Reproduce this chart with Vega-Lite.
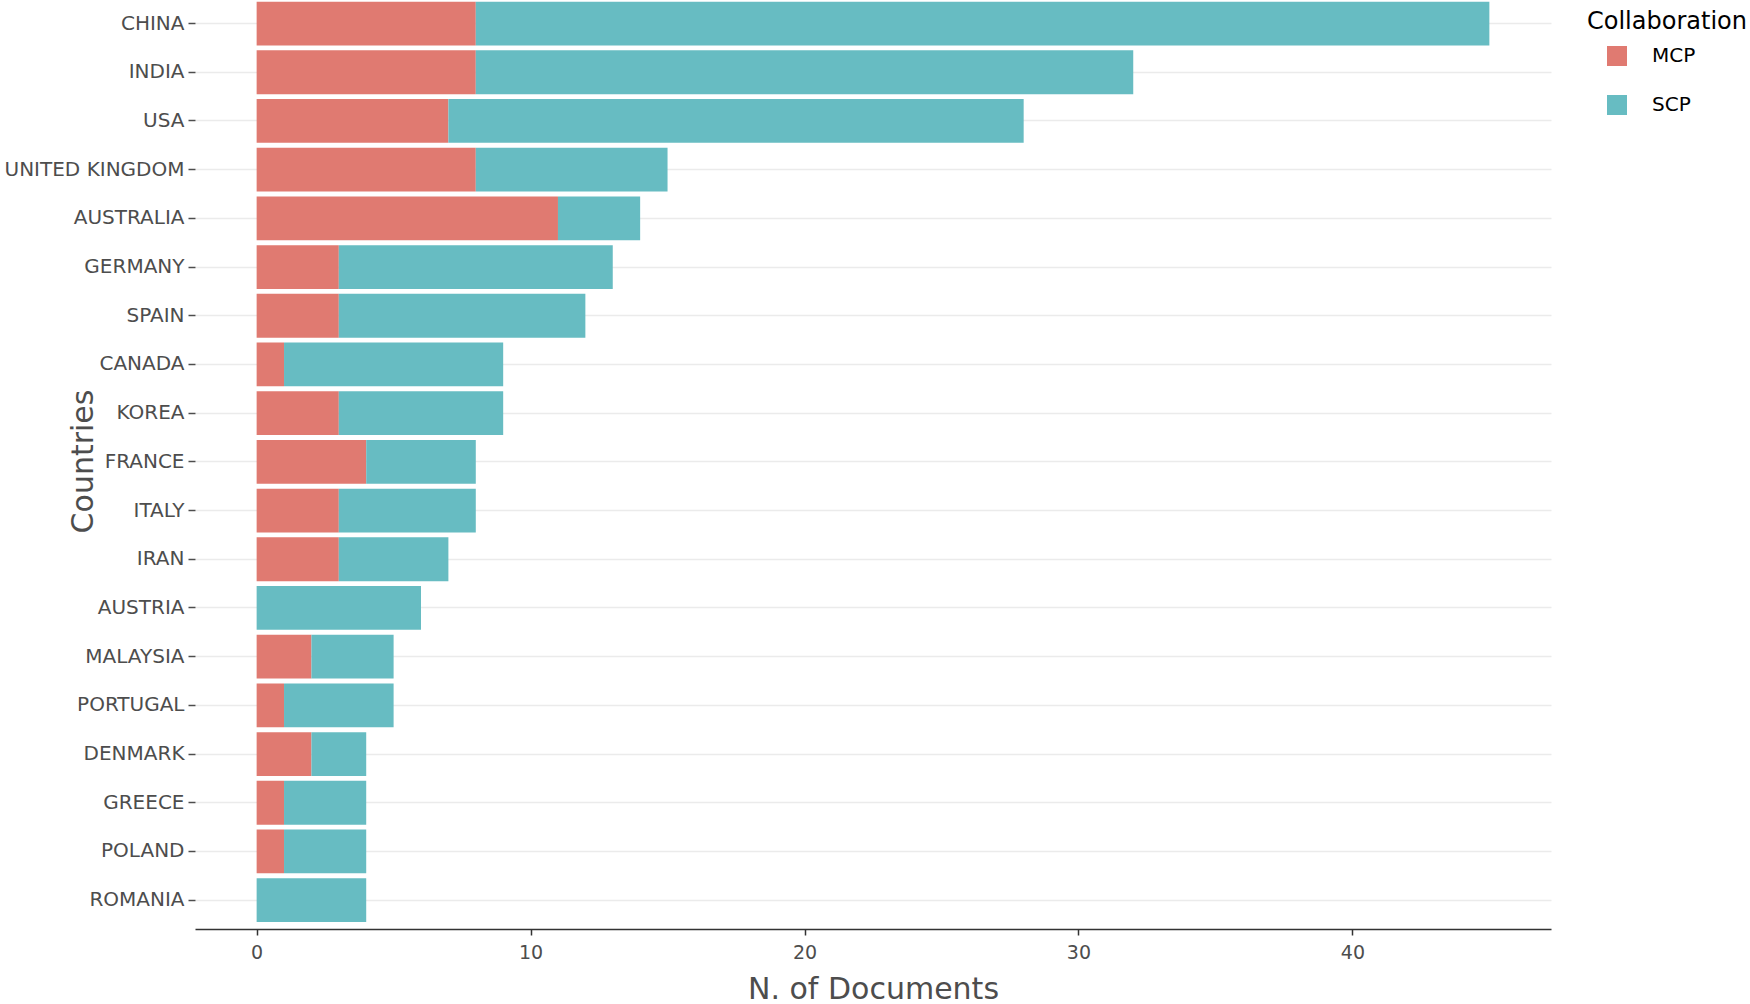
{
  "$schema": "https://vega.github.io/schema/vega-lite/v6.json",
  "autosize": {"type": "none"},
  "width": 1356,
  "height": 929,
  "padding": {"left": 195, "top": 0, "right": 199, "bottom": 75},
  "background": "white",
  "config": {
    "view": {"stroke": null},
    "font": "DejaVu Sans"
  },
  "data": {
    "values": [
      {"country": "CHINA", "Collaboration": "MCP", "n": 8},
      {"country": "CHINA", "Collaboration": "SCP", "n": 37},
      {"country": "INDIA", "Collaboration": "MCP", "n": 8},
      {"country": "INDIA", "Collaboration": "SCP", "n": 24},
      {"country": "USA", "Collaboration": "MCP", "n": 7},
      {"country": "USA", "Collaboration": "SCP", "n": 21},
      {"country": "UNITED KINGDOM", "Collaboration": "MCP", "n": 8},
      {"country": "UNITED KINGDOM", "Collaboration": "SCP", "n": 7},
      {"country": "AUSTRALIA", "Collaboration": "MCP", "n": 11},
      {"country": "AUSTRALIA", "Collaboration": "SCP", "n": 3},
      {"country": "GERMANY", "Collaboration": "MCP", "n": 3},
      {"country": "GERMANY", "Collaboration": "SCP", "n": 10},
      {"country": "SPAIN", "Collaboration": "MCP", "n": 3},
      {"country": "SPAIN", "Collaboration": "SCP", "n": 9},
      {"country": "CANADA", "Collaboration": "MCP", "n": 1},
      {"country": "CANADA", "Collaboration": "SCP", "n": 8},
      {"country": "KOREA", "Collaboration": "MCP", "n": 3},
      {"country": "KOREA", "Collaboration": "SCP", "n": 6},
      {"country": "FRANCE", "Collaboration": "MCP", "n": 4},
      {"country": "FRANCE", "Collaboration": "SCP", "n": 4},
      {"country": "ITALY", "Collaboration": "MCP", "n": 3},
      {"country": "ITALY", "Collaboration": "SCP", "n": 5},
      {"country": "IRAN", "Collaboration": "MCP", "n": 3},
      {"country": "IRAN", "Collaboration": "SCP", "n": 4},
      {"country": "AUSTRIA", "Collaboration": "MCP", "n": 0},
      {"country": "AUSTRIA", "Collaboration": "SCP", "n": 6},
      {"country": "MALAYSIA", "Collaboration": "MCP", "n": 2},
      {"country": "MALAYSIA", "Collaboration": "SCP", "n": 3},
      {"country": "PORTUGAL", "Collaboration": "MCP", "n": 1},
      {"country": "PORTUGAL", "Collaboration": "SCP", "n": 4},
      {"country": "DENMARK", "Collaboration": "MCP", "n": 2},
      {"country": "DENMARK", "Collaboration": "SCP", "n": 2},
      {"country": "GREECE", "Collaboration": "MCP", "n": 1},
      {"country": "GREECE", "Collaboration": "SCP", "n": 3},
      {"country": "POLAND", "Collaboration": "MCP", "n": 1},
      {"country": "POLAND", "Collaboration": "SCP", "n": 3},
      {"country": "ROMANIA", "Collaboration": "MCP", "n": 0},
      {"country": "ROMANIA", "Collaboration": "SCP", "n": 4}
    ]
  },
  "mark": {"type": "bar", "strokeWidth": 0},
  "encoding": {
    "y": {
      "field": "country",
      "type": "nominal",
      "sort": ["CHINA", "INDIA", "USA", "UNITED KINGDOM", "AUSTRALIA", "GERMANY", "SPAIN", "CANADA", "KOREA", "FRANCE", "ITALY", "IRAN", "AUSTRIA", "MALAYSIA", "PORTUGAL", "DENMARK", "GREECE", "POLAND", "ROMANIA"],
      "scale": {"paddingInner": 0.1, "paddingOuter": 0.088, "align": 0.19},
      "axis": {
        "title": "Countries",
        "titleFontSize": 30,
        "titleFontWeight": "normal",
        "titleColor": "#4d4d4d",
        "titleAngle": -90,
        "titleBaseline": "middle",
        "titleAlign": "center",
        "titleX": -112,
        "titleY": 461,
        "labelFontSize": 20,
        "labelColor": "#4d4d4d",
        "labelPadding": 4,
        "tickSize": 7,
        "tickColor": "#4d4d4d",
        "tickWidth": 1.5,
        "domain": false,
        "grid": true,
        "gridColor": "#ebebeb",
        "gridWidth": 1.5
      }
    },
    "x": {
      "field": "n",
      "type": "quantitative",
      "stack": "zero",
      "scale": {"domain": [-2.25, 47.25], "nice": false, "zero": false},
      "axis": {
        "title": "N. of Documents",
        "titleFontSize": 30,
        "titleFontWeight": "normal",
        "titleColor": "#4d4d4d",
        "titleBaseline": "alphabetic",
        "titleY": 69,
        "values": [0, 10, 20, 30, 40],
        "labelFontSize": 19,
        "labelColor": "#4d4d4d",
        "labelPadding": 8,
        "tickSize": 6,
        "tickColor": "#333333",
        "tickWidth": 1.5,
        "domainColor": "#333333",
        "domainWidth": 1.5,
        "grid": false
      }
    },
    "color": {
      "field": "Collaboration",
      "type": "nominal",
      "scale": {"domain": ["MCP", "SCP"], "range": ["#E07A71", "#67BCC2"]},
      "legend": {
        "orient": "none",
        "legendX": 1392,
        "legendY": 10,
        "padding": 0,
        "title": "Collaboration",
        "titleFontSize": 24,
        "titleFontWeight": "normal",
        "titleColor": "#000000",
        "titlePadding": 12,
        "labelFontSize": 20,
        "labelColor": "#000000",
        "labelOffset": 25,
        "symbolType": "square",
        "symbolSize": 400,
        "symbolStrokeWidth": 0,
        "symbolOpacity": 1,
        "symbolOffset": 20,
        "rowPadding": 29
      }
    }
  }
}
